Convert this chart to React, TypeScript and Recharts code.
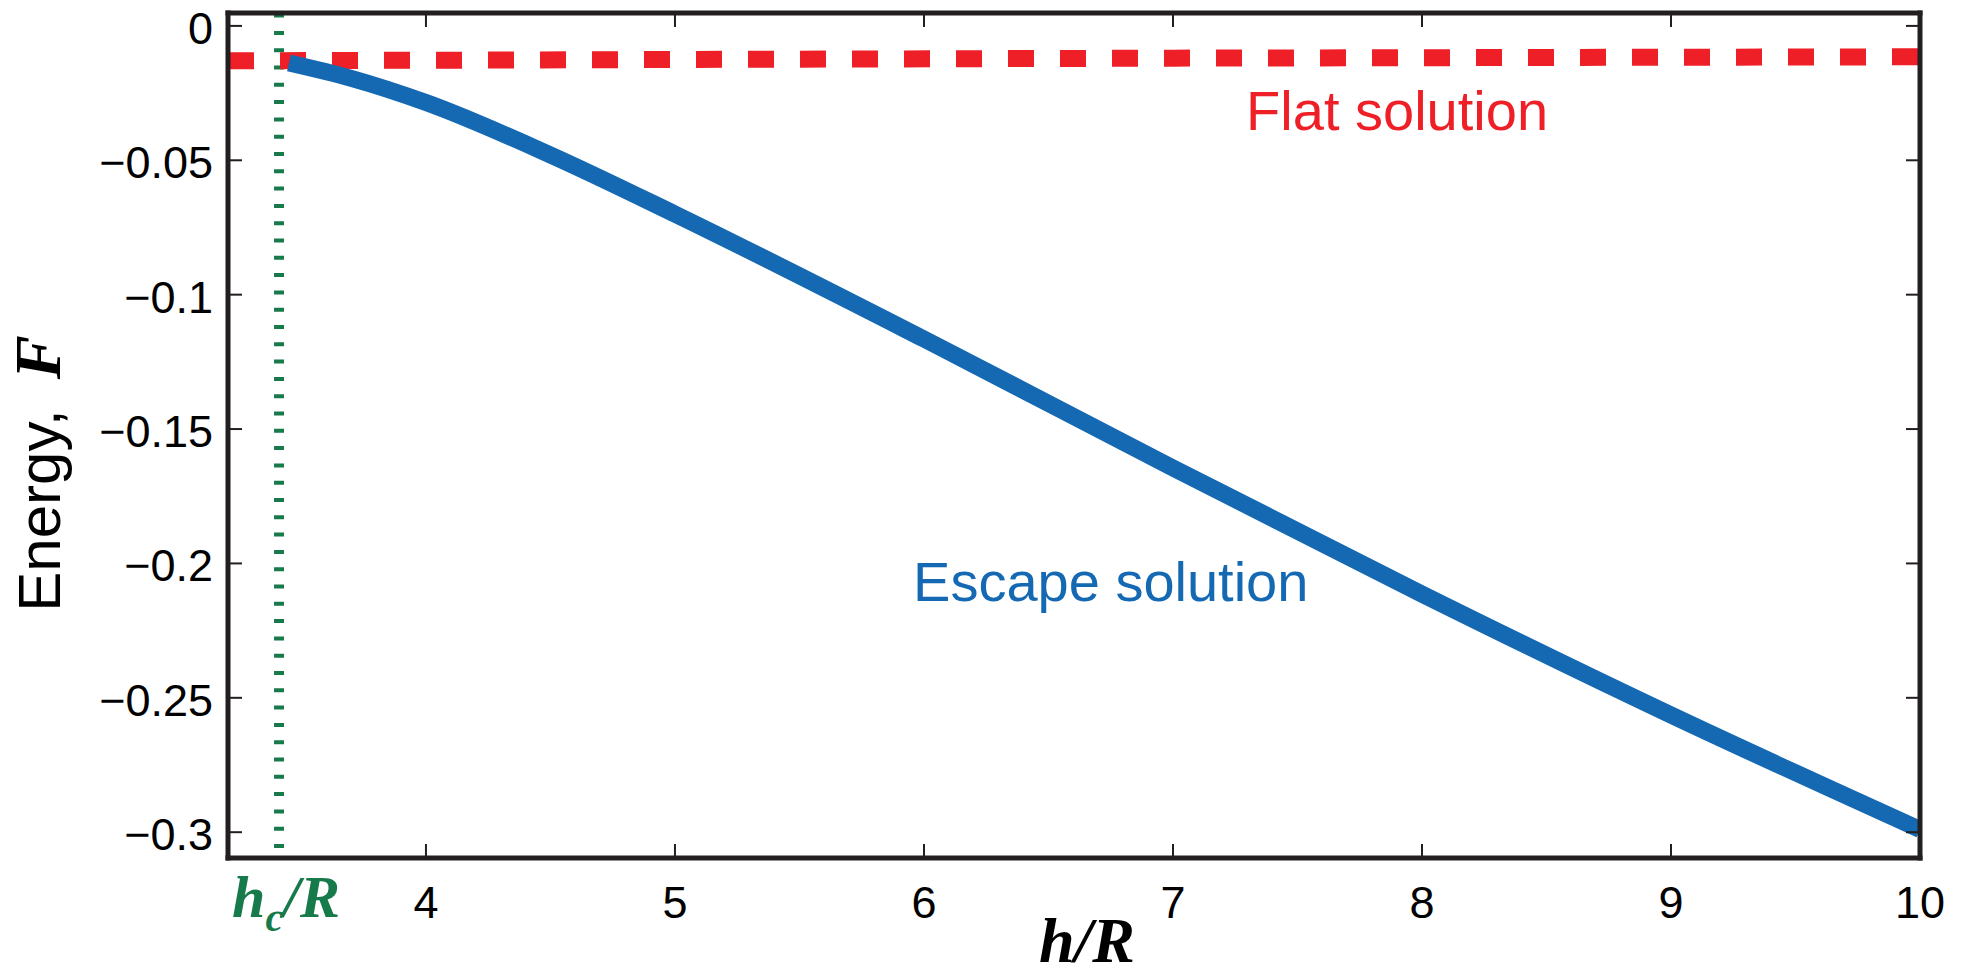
import { LineChart, Line, XAxis, YAxis, ReferenceLine, ReferenceDot } from 'recharts'

// critical height h_c/R marked by the dotted green line
const HC = 3.41

// escape solution (blue)
const escapeX = [3.45, 3.7, 4, 4.5, 5, 6, 7, 8, 9, 10]
const escapeF = [-0.0138, -0.0195, -0.0285, -0.048, -0.07, -0.1165, -0.1645, -0.2114, -0.2564, -0.299]

// flat solution (red, dashed)
const flatX = [3.205, 5, 7, 10]
const flatF = [-0.013, -0.0125, -0.012, -0.0115]

const xTicks = [HC, 4, 5, 6, 7, 8, 9, 10]
const xTickLabels = ['h_c/R', '4', '5', '6', '7', '8', '9', '10']
const yTicks = [0, -0.05, -0.1, -0.15, -0.2, -0.25, -0.3]
const yTickLabels = ['0', '−0.05', '−0.1', '−0.15', '−0.2', '−0.25', '−0.3']

const escapeData = escapeX.map((x, i) => ({ x, y: escapeF[i] }))
const flatData = flatX.map((x, i) => ({ x, y: flatF[i] }))

const X_DOMAIN: [number, number] = [3.205, 10]
const Y_DOMAIN: [number, number] = [-0.3096, 0.0048]

const AXIS = '#231f20'
const SANS = '"Liberation Sans", Arial, sans-serif'
const SERIF = '"Liberation Serif", "Times New Roman", serif'
const GREEN = '#167a4b'
const RED = '#ee1f26'
const BLUE = '#1569b3'

const axisLine = { stroke: AXIS, strokeWidth: 5, strokeLinecap: 'square' as const }

function BottomTick({ x, y, payload }: any) {
    const i = xTicks.indexOf(payload.value)
    if (payload.value === HC) {
        return (
            <text x={x + 7} y={y + 59} textAnchor="middle" fill={GREEN} fontFamily={SERIF}
                fontWeight="bold" fontStyle="italic" fontSize={60}>
                h<tspan fontSize={40} dy={14}>c</tspan><tspan dy={-14}>/R</tspan>
            </text>
        )
    }
    return (
        <g>
            <line x1={x} x2={x} y1={y} y2={y - 14} stroke={AXIS} strokeWidth={2} />
            <text x={x} y={y + 60} textAnchor="middle" fontFamily={SANS} fontSize={45} fill="#000">
                {xTickLabels[i]}
            </text>
        </g>
    )
}

function TopTick({ x, y }: any) {
    return <line x1={x} x2={x} y1={y} y2={y + 14} stroke={AXIS} strokeWidth={2} />
}

function LeftTick({ x, y, payload }: any) {
    const i = yTicks.indexOf(payload.value)
    return (
        <g>
            <line x1={x} x2={x + 14} y1={y} y2={y} stroke={AXIS} strokeWidth={2} />
            <text x={x - 15} y={y + 18} textAnchor="end" fontFamily={SANS} fontSize={45} fill="#000">
                {yTickLabels[i]}
            </text>
        </g>
    )
}

function RightTick({ x, y }: any) {
    return <line x1={x} x2={x - 14} y1={y} y2={y} stroke={AXIS} strokeWidth={2} />
}

function XLabel({ viewBox }: any) {
    const cx = viewBox.x + viewBox.width / 2 + 13
    return (
        <text x={cx} y={viewBox.y + 104} textAnchor="middle" fontFamily={SERIF} fontWeight="bold"
            fontStyle="italic" fontSize={64} fill="#000">
            h/R
        </text>
    )
}

function YLabel({ viewBox }: any) {
    const cx = viewBox.x + 60
    const cy = viewBox.y + viewBox.height / 2 + 38
    return (
        <text x={cx} y={cy} textAnchor="middle" transform={`rotate(-90, ${cx}, ${cy})`} fill="#000">
            <tspan fontFamily={SANS} fontSize={60}>Energy,</tspan>
            <tspan dx={30} fontFamily={SERIF} fontWeight="bold" fontStyle="italic" fontSize={66}>F</tspan>
        </text>
    )
}

export default function App() {
    return (
        <div style={{ position: 'fixed', left: 0, top: 0, width: 1965, height: 977, background: '#fff' }}>
            <LineChart width={1965} height={977} margin={{ top: 12, right: 44, bottom: 0, left: 0 }}>
                <XAxis type="number" dataKey="x" domain={X_DOMAIN} ticks={xTicks} interval={0}
                    allowDataOverflow height={119} tickSize={0} tickMargin={0} tickLine={false}
                    axisLine={axisLine} tick={<BottomTick />} label={XLabel} />
                <XAxis xAxisId="top" orientation="top" type="number" dataKey="x" domain={X_DOMAIN}
                    ticks={xTicks.slice(1)} interval={0} allowDataOverflow height={1} tickSize={0}
                    tickMargin={0} tickLine={false} axisLine={axisLine} tick={<TopTick />} />
                <YAxis type="number" domain={Y_DOMAIN} ticks={yTicks} interval={0} allowDataOverflow
                    width={228} tickSize={0} tickMargin={0} tickLine={false} axisLine={axisLine}
                    tick={<LeftTick />} label={YLabel} />
                <YAxis yAxisId="right" orientation="right" type="number" domain={Y_DOMAIN} ticks={yTicks}
                    interval={0} allowDataOverflow width={1} tickSize={0} tickMargin={0} tickLine={false}
                    axisLine={axisLine} tick={<RightTick />} />

                <ReferenceLine x={HC} stroke={GREEN} strokeWidth={10} strokeDasharray="4 13.3"
                    strokeDashoffset={-10} />

                <Line data={flatData} dataKey="y" type="linear" stroke={RED} strokeWidth={17}
                    strokeDasharray="26 26" dot={false} isAnimationActive={false} />
                <Line data={escapeData} dataKey="y" type="monotone" stroke={BLUE} strokeWidth={17}
                    dot={false} isAnimationActive={false} />

                <ReferenceDot x={7.9} y={-0.0313} r={0} stroke="none" fill="none"
                    label={{ value: 'Flat solution', position: 'center', fill: RED, fontSize: 56, fontFamily: SANS }} />
                <ReferenceDot x={6.75} y={-0.2066} r={0} stroke="none" fill="none"
                    label={{ value: 'Escape solution', position: 'center', fill: BLUE, fontSize: 56, fontFamily: SANS }} />
            </LineChart>
        </div>
    )
}
